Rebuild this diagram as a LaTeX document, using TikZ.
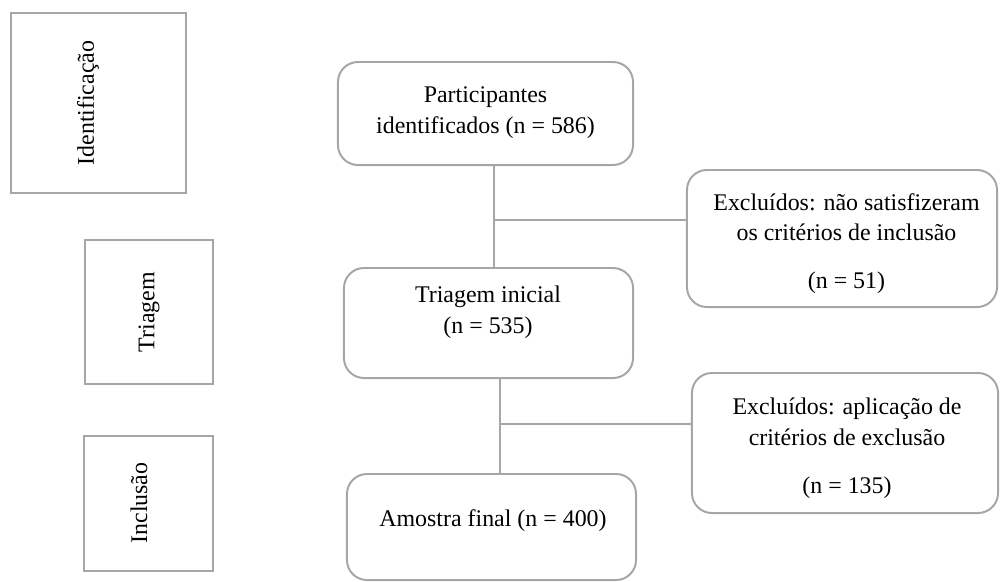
\documentclass[tikz,border=0pt]{standalone}
\usepackage{fontspec}
\setmainfont{Liberation Serif}
\usetikzlibrary{positioning}
\definecolor{boxgray}{RGB}{166,166,166}
\tikzset{%
  stage/.style = {rectangle,rounded corners=0.5cm,draw=boxgray,
        line width=1.4pt,inner sep=0pt},
  phase/.style = {rectangle,draw=boxgray,line width=1.4pt,inner sep=0pt},
  txt/.style = {align=center,inner sep=0pt,
        font=\fontsize{17}{22}\selectfont},
  link/.style = {draw=boxgray,line width=1.4pt}
}

\begin{document}
\begin{tikzpicture}[x=0.025cm,y=-0.025cm]
    \useasboundingbox (0,0) rectangle (1000,581);
    % phases on the left
    \node[phase,minimum width=4.375cm,minimum height=4.5cm] (ident) at (98.5,103) {};
    \node[phase,minimum width=3.2cm,minimum height=3.6cm] (tri) at (149,312) {};
    \node[phase,minimum width=3.225cm,minimum height=3.375cm] (incl) at (148.5,503.5) {};
    \node[txt,rotate=90] (identtxt) at (88,103) {Identificação};
    \node[txt,rotate=90] (tritxt) at (149,312) {Triagem};
    \node[txt,rotate=90] (incltxt) at (139,503) {Inclusão};
    % flow boxes
    \node[stage,minimum width=7.375cm,minimum height=2.575cm] (part) at (485.5,113.5) {};
    \node[stage,minimum width=7.225cm,minimum height=2.75cm] (triag) at (488.5,323) {};
    \node[stage,minimum width=7.225cm,minimum height=2.65cm] (amostra) at (491.5,527) {};
    \node[stage,minimum width=7.75cm,minimum height=3.425cm] (excl1) at (842,238.5) {};
    \node[stage,minimum width=7.65cm,minimum height=3.5cm] (excl2) at (845,443) {};
    \node[txt] (parttxt) at (485.5,112.5) {Participantes\\identificados (n = 586)};
    \node[txt] (triagtxt) at (488,312.5) {Triagem inicial\\(n = 535)};
    \node[txt] (amostratxt) at (493,521) {Amostra final (n = 400)};
    \node[txt] (excl1txt) at (846.5,243.5) {Excluídos: não satisfizeram\\os critérios de inclusão\\[12pt](n = 51)};
    \node[txt] (excl2txt) at (847,448.5) {Excluídos: aplicação de\\critérios de exclusão\\[12pt](n = 135)};
    % connectors
    \coordinate (j1) at (494,220);
    \coordinate (j2) at (500,424);
    \draw[link] (part.south -| j1) -- (triag.north -| j1);
    \draw[link] (j1) -- (excl1.west |- j1);
    \draw[link] (triag.south -| j2) -- (amostra.north -| j2);
    \draw[link] (j2) -- (excl2.west |- j2);
\end{tikzpicture}
\end{document}
